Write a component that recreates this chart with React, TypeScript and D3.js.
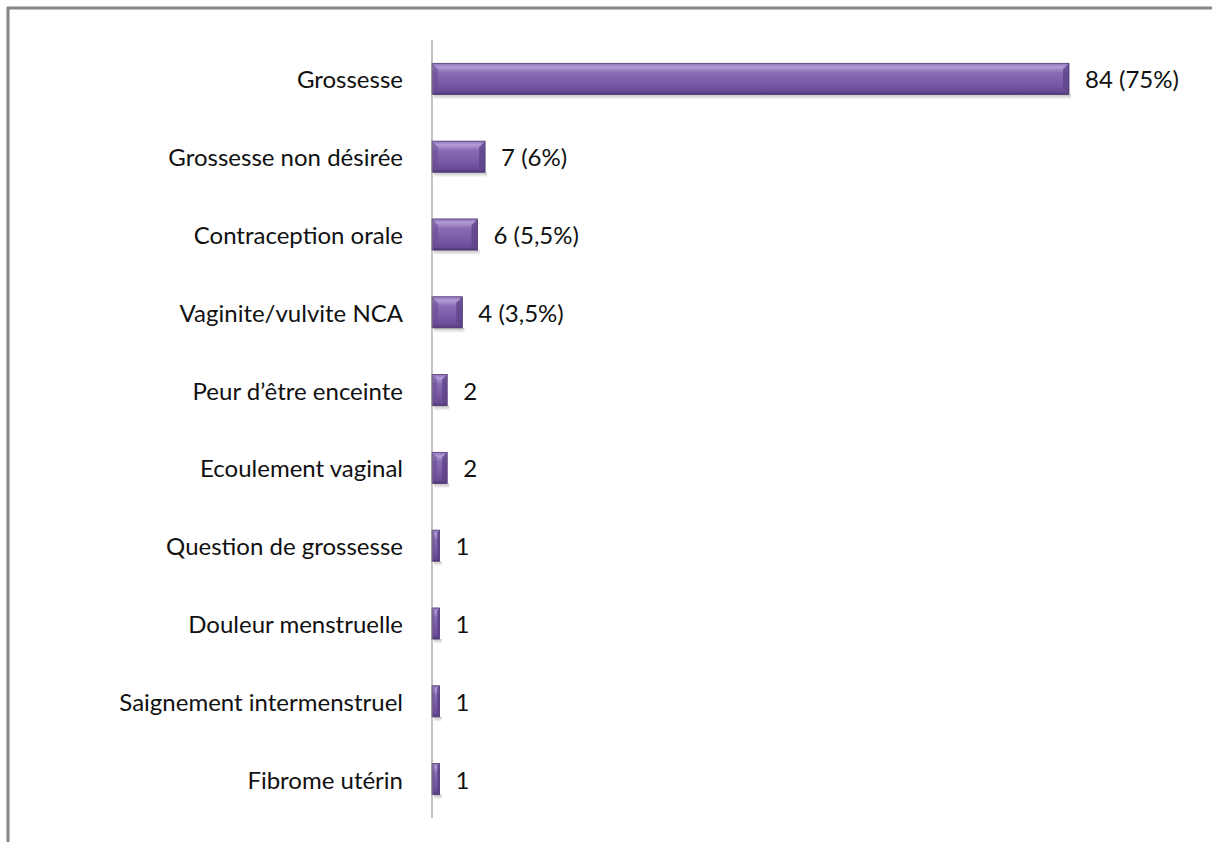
import React from "react";
import * as d3 from "d3";

const categories = [
  "Grossesse",
  "Grossesse non désirée",
  "Contraception orale",
  "Vaginite/vulvite NCA",
  "Peur d’être enceinte",
  "Ecoulement vaginal",
  "Question de grossesse",
  "Douleur menstruelle",
  "Saignement intermenstruel",
  "Fibrome utérin",
];
const values = [84, 7, 6, 4, 2, 2, 1, 1, 1, 1];
const valueLabels = ["84 (75%)", "7 (6%)", "6 (5,5%)", "4 (3,5%)", "2", "2", "1", "1", "1", "1"];

const W = 1212;
const H = 842;
const axisX = 432;
const top = 40;
const bottom = 818;

export default function App() {
  const x = d3.scaleLinear().domain([0, 84]).range([axisX, 1069]);
  const y = d3.scaleBand<string>().domain(categories).range([top, bottom]).paddingInner(0.6).paddingOuter(0.3);
  const bh = y.bandwidth();
  const font = "Lato, 'Open Sans', sans-serif";
  return (
    <svg width={W} height={H} style={{ position: "absolute", left: 0, top: 0 }}>
      <defs>
        <linearGradient id="barg" x1="0" y1="0" x2="0" y2="1">
          <stop offset="0" stopColor="#8f72b8" />
          <stop offset="0.12" stopColor="#b39cd6" />
          <stop offset="0.3" stopColor="#8a6cb4" />
          <stop offset="0.75" stopColor="#7454a2" />
          <stop offset="0.92" stopColor="#664892" />
          <stop offset="1" stopColor="#4a3470" />
        </linearGradient>
        <linearGradient id="shg" x1="0" y1="0" x2="0" y2="1">
          <stop offset="0" stopColor="#000" stopOpacity="0.25" />
          <stop offset="1" stopColor="#000" stopOpacity="0" />
        </linearGradient>
      </defs>
      <rect x={0} y={0} width={W} height={H} fill="#fff" />
      <line x1={7} y1={8} x2={W} y2={8} stroke="#868686" strokeWidth={3} />
      <line x1={8} y1={7} x2={8} y2={H} stroke="#868686" strokeWidth={3} />
      {categories.map((c, i) => {
        const y0 = y(c)!;
        const x1 = x(values[i]);
        const w = x1 - axisX;
        const bev = Math.min(6, w / 3);
        return (
          <g key={c}>
            <rect x={axisX + 2} y={y0 + bh} width={w} height={5} fill="url(#shg)" />
            <rect x={axisX} y={y0} width={w} height={bh} fill="url(#barg)" />
            <polygon
              points={`${x1},${y0} ${x1},${y0 + bh} ${x1 - bev},${y0 + bh - bev} ${x1 - bev},${y0 + bev}`}
              fill="#5e4488"
              opacity={0.8}
            />
            <polygon
              points={`${axisX},${y0} ${axisX + bev},${y0 + bev} ${axisX + bev},${y0 + bh - bev} ${axisX},${y0 + bh}`}
              fill="#6a4e96"
              opacity={0.6}
            />
            <rect x={axisX} y={y0} width={w} height={bh} fill="none" stroke="#4e3872" strokeWidth={0.8} />
            <text
              x={403}
              y={y0 + bh / 2}
              textAnchor="end"
              dominantBaseline="central"
              fontFamily={font}
              fontSize={24}
              fontWeight={400}
              fill="#111"
            >
              {c}
            </text>
            <text
              x={x1 + 16}
              y={y0 + bh / 2}
              dominantBaseline="central"
              fontFamily={font}
              fontSize={24}
              fontWeight={400}
              fill="#111"
            >
              {valueLabels[i]}
            </text>
          </g>
        );
      })}
      <line x1={axisX} y1={top} x2={axisX} y2={bottom} stroke="#868686" strokeWidth={1} />
    </svg>
  );
}
